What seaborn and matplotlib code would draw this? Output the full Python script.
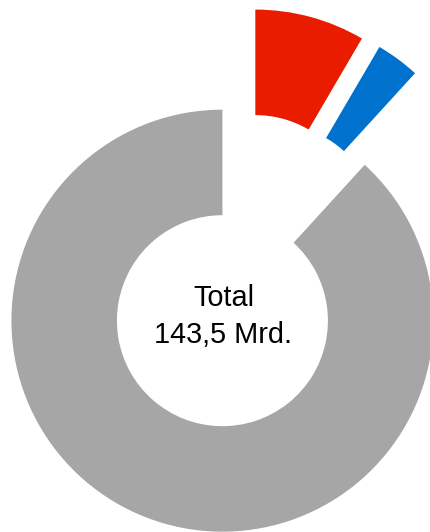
import matplotlib
matplotlib.use("Agg")
import matplotlib.pyplot as plt
import seaborn as sns

sns.set_theme(style="white")
plt.rcParams['font.family'] = ['Liberation Sans', 'DejaVu Sans']

# Data (Mrd.)
categories = ["Segment A", "Segment B", "Übrige"]
values = [12.1, 4.8, 126.6]
colors = ["#EA1C00", "#0072CE", "#A6A6A6"]
explode = [0.25, 0.25, 0.25]
total_label = "Total\n143,5 Mrd."

fig = plt.figure(figsize=(4.30, 5.32), dpi=100)
ax = fig.add_axes([0, 0, 1, 1])

wedges, _ = ax.pie(values, colors=colors, explode=explode, startangle=90,
                   counterclock=False, radius=1.0,
                   wedgeprops=dict(width=0.5, linewidth=0))

# Layout: pie radius ~211 px, pie origin at (241.5, 270.5) px from top-left
R_PX = 211.0
ox, oy = 241.5, 271.5
ax.set_xlim(-ox / R_PX, (430 - ox) / R_PX)
ax.set_ylim(-(532 - oy) / R_PX, oy / R_PX)
ax.set_aspect("equal")
ax.axis("off")

cx, cy = wedges[-1].center
ax.text(cx + 0.005, cy + 0.02, total_label, ha="center", va="center", fontsize=20.8,
        linespacing=1.45, color="black", multialignment="center")

fig.savefig("out.png", dpi=100, facecolor="white")
